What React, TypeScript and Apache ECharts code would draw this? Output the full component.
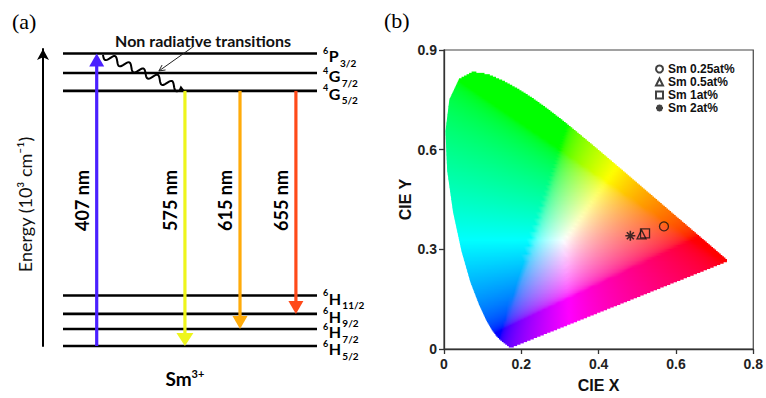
import React, { useEffect, useRef } from 'react';
import * as echarts from 'echarts';

// ---------- (a) Sm3+ energy level diagram (schematic positions) ----------
const levelSup = ['6', '6', '6', '6', '4', '4', '6'];
const levelTerm = ['H', 'H', 'H', 'H', 'G', 'G', 'P'];
const levelJ = ['5/2', '7/2', '9/2', '11/2', '5/2', '7/2', '3/2'];
const levelPos = [0, 5.7, 10.8, 17.0, 85.9, 91.9, 98.5];

const transLabels = ['407 nm', '575 nm', '615 nm', '655 nm'];
const transFrom = [0, 4, 4, 4];
const transTo = [6, 0, 1, 2];
const transColors = ['#4a20ff', '#eef51c', '#ffab0a', '#ff4a1a'];
const transX = [19.6, 51.8, 71.9, 92.3];

// ---------- (b) CIE 1931 chromaticity ----------
const locusX = [0.1741, 0.1740, 0.1738, 0.1736, 0.1733, 0.1730, 0.1726, 0.1721, 0.1714, 0.1703, 0.1689, 0.1669, 0.1644, 0.1611, 0.1566, 0.1510, 0.1440, 0.1355, 0.1241, 0.1096, 0.0913, 0.0687, 0.0454, 0.0235, 0.0082, 0.0039, 0.0139, 0.0389, 0.0743, 0.1142, 0.1547, 0.1929, 0.2296, 0.2658, 0.3016, 0.3373, 0.3731, 0.4087, 0.4441, 0.4788, 0.5125, 0.5448, 0.5752, 0.6029, 0.6270, 0.6482, 0.6658, 0.6801, 0.6915, 0.7006, 0.7079, 0.7140, 0.7190, 0.7230, 0.7260, 0.7283, 0.7300, 0.7311, 0.7320, 0.7334, 0.7344, 0.7347];
const locusY = [0.0050, 0.0050, 0.0049, 0.0049, 0.0048, 0.0048, 0.0048, 0.0048, 0.0051, 0.0058, 0.0069, 0.0086, 0.0109, 0.0138, 0.0177, 0.0227, 0.0297, 0.0399, 0.0578, 0.0868, 0.1327, 0.2007, 0.2950, 0.4127, 0.5384, 0.6548, 0.7502, 0.8120, 0.8338, 0.8262, 0.8059, 0.7816, 0.7543, 0.7243, 0.6923, 0.6589, 0.6245, 0.5896, 0.5547, 0.5202, 0.4866, 0.4544, 0.4242, 0.3965, 0.3725, 0.3514, 0.3340, 0.3197, 0.3083, 0.2993, 0.2920, 0.2859, 0.2809, 0.2770, 0.2740, 0.2717, 0.2700, 0.2689, 0.2680, 0.2666, 0.2656, 0.2653];

const sampleNames = ['Sm 0.25at%', 'Sm 0.5at%', 'Sm 1at%', 'Sm 2at%'];
const sampleX = [0.569, 0.511, 0.520, 0.482];
const sampleY = [0.369, 0.345, 0.348, 0.341];
const asterisk = 'path://M5,0L5,10M0,5L10,5M1.5,1.5L8.5,8.5M1.5,8.5L8.5,1.5';
const sampleSymbols = ['circle', 'triangle', 'rect', asterisk];

function xyToRgb(x: number, y: number) {
  const X = x / y, Y = 1, Z = (1 - x - y) / y;
  let r = 3.2406 * X - 1.5372 * Y - 0.4986 * Z;
  let g = -0.9689 * X + 1.8758 * Y + 0.0415 * Z;
  let b = 0.0557 * X - 0.2040 * Y + 1.0570 * Z;
  r = Math.max(r, 0); g = Math.max(g, 0); b = Math.max(b, 0);
  const m = Math.max(r, g, b) || 1;
  const gam = (c: number) => {
    c /= m;
    const v = c <= 0.0031308 ? 12.92 * c : 1.055 * Math.pow(c, 1 / 2.4) - 0.055;
    return Math.round(255 * Math.min(1, Math.max(0, v)));
  };
  return `rgb(${gam(r)},${gam(g)},${gam(b)})`;
}

function gamutRender(params: any, api: any) {
  const n = locusX.length;
  const children: any[] = [];
  const step = 0.004;
  const maxY = Math.max(...locusY);
  for (let y0 = 0.002; y0 < maxY; y0 += step) {
    const ym = y0 + step / 2;
    let xl = Infinity, xr = -Infinity;
    for (let i = 0; i < n; i++) {
      const j = (i + 1) % n;
      const ya = locusY[i], yb = locusY[j];
      if ((ya <= ym && yb > ym) || (yb <= ym && ya > ym)) {
        const x = locusX[i] + ((ym - ya) / (yb - ya)) * (locusX[j] - locusX[i]);
        xl = Math.min(xl, x); xr = Math.max(xr, x);
      }
    }
    if (!(xr > xl)) continue;
    const p1 = api.coord([xl, y0 + step]);
    const p2 = api.coord([xr, y0]);
    const stops: any[] = [];
    const N = 40;
    for (let k = 0; k <= N; k++) {
      const x = xl + ((xr - xl) * k) / N;
      stops.push({ offset: k / N, color: xyToRgb(x, ym) });
    }
    children.push({
      type: 'rect',
      shape: { x: p1[0], y: p1[1] - 0.4, width: p2[0] - p1[0], height: p2[1] - p1[1] + 0.8 },
      style: { fill: new echarts.graphic.LinearGradient(0, 0, 1, 0, stops) },
      silent: true,
    });
  }
  return { type: 'group', children };
}

const levelX0 = 7.3;
const levelX1 = 100;

let measureCtx: CanvasRenderingContext2D | null = null;
function textWidth(t: string, font: string) {
  if (!measureCtx) measureCtx = document.createElement('canvas').getContext('2d');
  if (!measureCtx) return t.length * 10;
  measureCtx.font = font;
  return measureCtx.measureText(t).width;
}

function levelRender(params: any, api: any) {
  const i = params.dataIndex;
  const a = api.coord([levelX0, levelPos[i]]);
  const b = api.coord([levelX1, levelPos[i]]);
  const x0 = b[0] + 6;
  const supW = textWidth(levelSup[i], 'bold 9px Lato');
  const termW = textWidth(levelTerm[i], 'bold 16px Lato');
  const common = { fontWeight: 'bold', fontFamily: 'Lato', fill: '#000', align: 'left', verticalAlign: 'middle' };
  return {
    type: 'group',
    children: [
      { type: 'line', shape: { x1: a[0], y1: a[1], x2: b[0], y2: b[1] }, style: { stroke: '#000', lineWidth: 2.6 } },
      { type: 'text', x: x0, y: b[1] - 3, style: { ...common, text: levelSup[i], fontSize: 9 } },
      { type: 'text', x: x0 + supW + 0.5, y: b[1] + 2.5, style: { ...common, text: levelTerm[i], fontSize: 16 } },
      { type: 'text', x: x0 + supW + termW + 1.8, y: b[1] + 9.5, style: { ...common, text: levelJ[i], fontSize: 10 } },
    ],
  };
}

function transRender(params: any, api: any) {
  const i = params.dataIndex;
  const from = api.coord([transX[i], levelPos[transFrom[i]]]);
  const to = api.coord([transX[i], levelPos[transTo[i]]]);
  const dir = to[1] > from[1] ? 1 : -1;
  const headLen = 13;
  const headHalf = i === 1 ? 8.5 : 7.5;
  const baseY = to[1] - dir * headLen;
  const labelY = api.coord([0, 49])[1];
  return {
    type: 'group',
    children: [
      { type: 'line', shape: { x1: from[0], y1: from[1], x2: to[0], y2: baseY + dir }, style: { stroke: transColors[i], lineWidth: 3.2 } },
      {
        type: 'polygon',
        shape: { points: [[to[0], to[1]], [to[0] - headHalf, baseY], [to[0] + headHalf, baseY]] },
        style: { fill: transColors[i] },
      },
      {
        type: 'text',
        x: to[0] - 15,
        y: labelY,
        rotation: Math.PI / 2,
        style: {
          text: transLabels[i],
          fontSize: 18,
          fontWeight: 'bold',
          fontFamily: 'Lato',
          fill: '#000',
          align: 'center',
          verticalAlign: 'middle',
        },
      },
    ],
  };
}

function waveRender(params: any, api: any) {
  const a = api.coord([transX[0] + 2.3, levelPos[6] - 0.5]);
  const b = api.coord([transX[1], levelPos[4]]);
  const dx = b[0] - a[0], dy = b[1] - a[1];
  const L = Math.sqrt(dx * dx + dy * dy);
  const ux = dx / L, uy = dy / L;
  const nx = -uy, ny = ux;
  const pts: number[][] = [];
  const lam = 15.5, A = 3.8, headLen = 6;
  const end = L - headLen;
  for (let s = 0; s <= end; s += 0.8) {
    const off = A * Math.sin((2 * Math.PI * s) / lam);
    pts.push([a[0] + ux * s + nx * off, a[1] + uy * s + ny * off]);
  }
  const baseX = b[0] - ux * headLen, baseY = b[1] - uy * headLen;
  const pStart = api.coord([54.7, 100.7]);
  const pEnd = api.coord([42.3, 92.6]);
  const pdx = pEnd[0] - pStart[0], pdy = pEnd[1] - pStart[1];
  const pl = Math.sqrt(pdx * pdx + pdy * pdy);
  const pux = pdx / pl, puy = pdy / pl;
  const hl = 6, hw = 3;
  const txt = api.coord([58.4, 103]);
  const sm = api.coord([transX[1], -10.8]);
  return {
    type: 'group',
    children: [
      { type: 'polyline', shape: { points: pts }, style: { stroke: '#000', lineWidth: 2, fill: 'none' } },
      {
        type: 'polygon',
        shape: { points: [[b[0], b[1]], [baseX + nx * 3.2, baseY + ny * 3.2], [baseX - nx * 3.2, baseY - ny * 3.2]] },
        style: { fill: '#000' },
      },
      { type: 'line', shape: { x1: pStart[0], y1: pStart[1], x2: pEnd[0], y2: pEnd[1] }, style: { stroke: '#222', lineWidth: 1 } },
      {
        type: 'polyline',
        shape: {
          points: [
            [pEnd[0] - pux * hl - puy * hw, pEnd[1] - puy * hl + pux * hw],
            [pEnd[0], pEnd[1]],
            [pEnd[0] - pux * hl + puy * hw, pEnd[1] - puy * hl - pux * hw],
          ],
        },
        style: { stroke: '#222', lineWidth: 1, fill: 'none' },
      },
      {
        type: 'text',
        x: txt[0],
        y: txt[1],
        style: { text: 'Non radiative transitions', fontSize: 16, fontWeight: 'bold', fontFamily: 'Lato', fill: '#111', align: 'center', verticalAlign: 'middle' },
      },
      {
        type: 'text',
        x: sm[0],
        y: sm[1],
        style: {
          text: '{b|Sm}{s|3+}',
          align: 'center',
          verticalAlign: 'middle',
          rich: {
            b: { fontSize: 19, fontWeight: 'bold', fontFamily: 'Lato', fill: '#000' },
            s: { fontSize: 11, fontWeight: 'bold', fontFamily: 'Lato', fill: '#000', padding: [0, 0, 9, 0] },
          },
        },
      },
    ],
  };
}

export default function App() {
  const ref = useRef<HTMLDivElement>(null);
  useEffect(() => {
    if (!ref.current) return;
    const chart = echarts.init(ref.current, null, { renderer: 'svg' });
    const axisFont = { fontFamily: 'Liberation Sans', fontWeight: 'bold' as const, color: '#222' };
    chart.setOption({
      animation: false,
      backgroundColor: '#fff',
      grid: [
        { left: 43, top: 49, width: 274, height: 297 },
        { left: 444, top: 50, width: 312, height: 304, show: true, borderColor: '#444', borderWidth: 1.2, backgroundColor: 'transparent' },
      ],
      xAxis: [
        { gridIndex: 0, type: 'value', min: 0, max: 100, show: false },
        {
          gridIndex: 1, type: 'value', min: 0, max: 0.8, interval: 0.2,
          name: 'CIE X', nameLocation: 'middle', nameGap: 28,
          nameTextStyle: { ...axisFont, fontSize: 16, color: '#111' },
          axisLine: { show: true, lineStyle: { color: '#333', width: 1.3 } },
          axisTick: { show: true, length: 5, inside: false, lineStyle: { color: '#333', width: 1.3 } },
          axisLabel: { ...axisFont, fontSize: 14, margin: 8 },
          splitLine: { show: false },
        },
      ],
      yAxis: [
        {
          gridIndex: 0, type: 'value', min: 0, max: 100,
          name: 'Energy (10³ cm⁻¹)', nameLocation: 'middle', nameGap: 9,
          nameTextStyle: { fontFamily: 'Lato', fontSize: 18, color: '#111', padding: [0, 14, 0, 0] },
          axisLine: { show: true, symbol: ['none', 'arrow'], symbolSize: [9, 11], lineStyle: { color: '#000', width: 2 } },
          axisTick: { show: false },
          axisLabel: { show: false },
          splitLine: { show: false },
        },
        {
          gridIndex: 1, type: 'value', min: 0, max: 0.9, interval: 0.3,
          name: 'CIE Y', nameLocation: 'middle', nameGap: 24,
          nameTextStyle: { ...axisFont, fontSize: 16, color: '#111' },
          axisLine: { show: true, lineStyle: { color: '#333', width: 1.3 } },
          axisTick: { show: true, length: 5, inside: false, lineStyle: { color: '#333', width: 1.3 } },
          axisLabel: { ...axisFont, fontSize: 14, margin: 7 },
          splitLine: { show: false },
        },
      ],
      legend: {
        orient: 'vertical',
        left: 655,
        top: 63,
        padding: 0,
        itemWidth: 7,
        itemHeight: 7,
        itemGap: 1,
        data: sampleNames,
        textStyle: { fontFamily: 'Liberation Sans', fontWeight: 'bold', fontSize: 12, color: '#111', lineHeight: 11 },
      },
      graphic: [
        { type: 'text', left: 12, top: 10, style: { text: '(a)', fontFamily: 'Liberation Serif', fontSize: 22, fill: '#000' } },
        { type: 'text', left: 384, top: 9, style: { text: '(b)', fontFamily: 'Liberation Serif', fontSize: 22, fill: '#000' } },
      ],
      series: [
        { type: 'custom', xAxisIndex: 0, yAxisIndex: 0, data: levelPos.map((p) => [levelX0, p]), renderItem: levelRender, z: 2, silent: true },
        { type: 'custom', xAxisIndex: 0, yAxisIndex: 0, data: transX.map((x, i) => [x, levelPos[transTo[i]]]), renderItem: transRender, z: 3, silent: true },
        { type: 'custom', xAxisIndex: 0, yAxisIndex: 0, data: [[transX[1], levelPos[4]]], renderItem: waveRender, z: 3, silent: true },
        { type: 'custom', xAxisIndex: 1, yAxisIndex: 1, data: [[0, 0]], renderItem: gamutRender, z: 1, silent: true },
        ...sampleNames.map((name, i) => ({
          type: 'scatter',
          name,
          xAxisIndex: 1,
          yAxisIndex: 1,
          data: [[sampleX[i], sampleY[i]]],
          symbol: sampleSymbols[i],
          symbolSize: i === 3 ? 10 : 9,
          itemStyle: { color: 'transparent', borderColor: '#111', borderWidth: i === 3 ? 1.6 : 1.3 },
          z: 5,
        })),
      ],
    });
    return () => chart.dispose();
  }, []);
  return <div ref={ref} style={{ position: 'absolute', left: 0, top: 0, width: 766, height: 398 }} />;
}
